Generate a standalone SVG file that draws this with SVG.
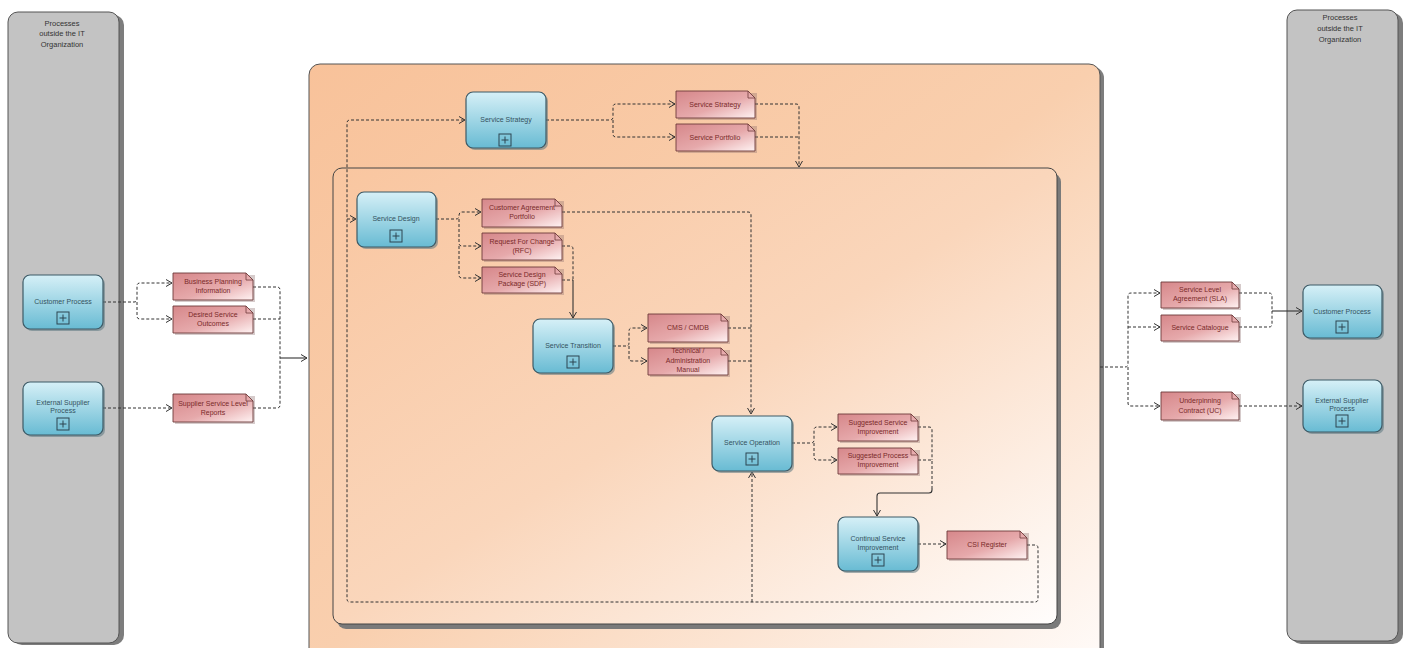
<svg xmlns="http://www.w3.org/2000/svg" width="1407" height="648" viewBox="0 0 1407 648">
<defs>
<linearGradient id="gTask" x1="0" y1="0" x2="0" y2="1"><stop offset="0" stop-color="#d6f0f7"/><stop offset="1" stop-color="#68bbd3"/></linearGradient>
<linearGradient id="gData" x1="0" y1="0" x2="1" y2="1"><stop offset="0" stop-color="#d6878a"/><stop offset="0.55" stop-color="#e6a9ab"/><stop offset="1" stop-color="#fff3f3"/></linearGradient>
<linearGradient id="gLife" x1="0" y1="0" x2="1" y2="1"><stop offset="0" stop-color="#f8c29a"/><stop offset="0.5" stop-color="#f9cfae"/><stop offset="1" stop-color="#fffbf9"/></linearGradient>
<linearGradient id="gInner" x1="0" y1="0" x2="1" y2="1"><stop offset="0" stop-color="#f9c6a0"/><stop offset="0.5" stop-color="#fad6bb"/><stop offset="1" stop-color="#fffdfc"/></linearGradient>
<marker id="ar" markerUnits="userSpaceOnUse" markerWidth="9" markerHeight="9" refX="7" refY="4" orient="auto"><path d="M1,0.5 L7,4 L1,7.5" fill="none" stroke="#333" stroke-width="1"/></marker>
</defs>
<style>
.pool{fill:#c3c3c3;stroke:#555;stroke-width:1}
.psh{fill:#7d7d7d}
.pt{font-family:"Liberation Sans",Arial,sans-serif;font-size:7.5px;fill:#333;text-anchor:middle}
.task{fill:url(#gTask);stroke:#3d5a66;stroke-width:1.2}
.tsh{fill:#5b7680;opacity:0.55}
.tt{font-family:"Liberation Sans",Arial,sans-serif;font-size:7px;fill:#34525e;text-anchor:middle}
.plus{fill:none;stroke:#2d4550;stroke-width:1}
.data{fill:url(#gData);stroke:#6e3a3a;stroke-width:0.9}
.dsh{fill:#8a6a6a;opacity:0.35}
.fold{fill:none;stroke:#6e3a3a;stroke-width:0.8}
.dt{font-family:"Liberation Sans",Arial,sans-serif;font-size:7px;fill:#7a2a2a;text-anchor:middle}
.d{fill:none;stroke:#333;stroke-width:1;stroke-dasharray:3,2}
.s{fill:none;stroke:#333;stroke-width:1.1}
</style>

<!-- pools -->
<g id="pool-left">
<rect class="psh" x="12" y="15" width="112" height="630" rx="10"/>
<rect class="pool" x="8" y="12" width="111" height="631" rx="10"/>
<text class="pt" x="62" y="26">Processes</text>
<text class="pt" x="62" y="36">outside the IT</text>
<text class="pt" x="62" y="47">Organization</text>
</g>
<g id="pool-right">
<rect class="psh" x="1291" y="13" width="112" height="631" rx="10"/>
<rect class="pool" x="1287" y="10" width="111" height="631" rx="10"/>
<text class="pt" x="1340" y="20">Processes</text>
<text class="pt" x="1340" y="31">outside the IT</text>
<text class="pt" x="1340" y="42">Organization</text>
</g>

<!-- lifecycle containers -->
<g id="lifecycle">
<rect x="313" y="67" width="791" height="600" rx="11" fill="#7d7d7d"/>
<rect x="309" y="64" width="791" height="600" rx="11" fill="url(#gLife)" stroke="#555" stroke-width="1"/>
</g>
<g id="lifecycle-inner">
<rect x="337" y="173" width="724" height="456" rx="9" fill="#7a7a7a"/>
<rect x="333" y="168" width="724" height="456" rx="9" fill="url(#gInner)" stroke="#444" stroke-width="1"/>
</g>

<!-- connectors -->
<g id="connectors">
<path class="d" d="M103,302 H134 Q137,302 137,299 V286 Q137,283 140,283 H172" marker-end="url(#ar)"/>
<path class="d" d="M137,302 V316 Q137,319 140,319 H172" marker-end="url(#ar)"/>
<path class="d" d="M103,408 H172" marker-end="url(#ar)"/>
<path class="d" d="M253,287 H277 Q280,287 280,290 V358"/>
<path class="d" d="M253,319 H280"/>
<path class="d" d="M253,408 H277 Q280,408 280,405 V358"/>
<path class="s" d="M280,358 H307" marker-end="url(#ar)"/>

<path class="d" d="M546,120 H610 Q613,120 613,117 V107 Q613,104 616,104 H675" marker-end="url(#ar)"/>
<path class="d" d="M613,120 V134 Q613,137 616,137 H675" marker-end="url(#ar)"/>
<path class="d" d="M755,104 H796 Q799,104 799,107 V167" marker-end="url(#ar)"/>
<path class="d" d="M755,137 H799"/>

<path class="d" d="M1027,545 H1035 Q1038,545 1038,548 V599 Q1038,602 1035,602 H350 Q347,602 347,599 V123 Q347,120 350,120 H465" marker-end="url(#ar)"/>
<path class="d" d="M347,219 H356" marker-end="url(#ar)"/>
<path class="d" d="M752,602 V472" marker-end="url(#ar)"/>

<path class="d" d="M436,219 H456 Q459,219 459,216 Q459,212 462,212 H481" marker-end="url(#ar)"/>
<path class="d" d="M459,219 V243 Q459,246 462,246 H481" marker-end="url(#ar)"/>
<path class="d" d="M459,246 V275 Q459,278 462,278 H481" marker-end="url(#ar)"/>
<path class="d" d="M562,212 H748 Q751,212 751,215 V414" marker-end="url(#ar)"/>
<path class="d" d="M562,246 H570 Q573,246 573,249 V280"/>
<path class="d" d="M562,280 H573"/>
<path class="s" d="M573,280 V318" marker-end="url(#ar)"/>

<path class="d" d="M613,346 H626 Q629,346 629,343 V331 Q629,328 632,328 H647" marker-end="url(#ar)"/>
<path class="d" d="M629,346 V358 Q629,361 632,361 H647" marker-end="url(#ar)"/>
<path class="d" d="M728,328 H751"/>
<path class="d" d="M728,361 H751"/>

<path class="d" d="M792,443 H811 Q814,443 814,440 V430 Q814,427 817,427 H837" marker-end="url(#ar)"/>
<path class="d" d="M814,443 V457 Q814,460 817,460 H837" marker-end="url(#ar)"/>
<path class="d" d="M918,427 H929 Q932,427 932,430 V460"/>
<path class="d" d="M918,460 H932 V488"/>
<path class="s" d="M932,488 V490 Q932,493 929,493 H880 Q877,493 877,496 V516" marker-end="url(#ar)"/>
<path class="d" d="M918,544 H946" marker-end="url(#ar)"/>

<path class="d" d="M1100,367 H1125 Q1128,367 1128,364 V296 Q1128,293 1131,293 H1160" marker-end="url(#ar)"/>
<path class="d" d="M1128,327 H1160" marker-end="url(#ar)"/>
<path class="d" d="M1128,367 V403 Q1128,406 1131,406 H1160" marker-end="url(#ar)"/>
<path class="d" d="M1239,293 H1269 Q1272,293 1272,296 V311"/>
<path class="d" d="M1239,327 H1269 Q1272,327 1272,324 V311"/>
<path class="s" d="M1272,311 H1302" marker-end="url(#ar)"/>
<path class="d" d="M1239,406 H1302" marker-end="url(#ar)"/>
</g>

<!-- task nodes -->
<g id="customer-process-left">
<rect class="tsh" x="25" y="277" width="80" height="54" rx="7"/>
<rect class="task" x="23" y="275" width="80" height="54" rx="7"/>
<text class="tt" x="63" y="304">Customer Process</text>
<rect class="plus" x="57" y="312" width="12" height="12"/><path class="plus" d="M63,314.5 V321.5 M59.5,318 H66.5"/>
</g>
<g id="external-supplier-left">
<rect class="tsh" x="25" y="384" width="80" height="53" rx="7"/>
<rect class="task" x="23" y="382" width="80" height="53" rx="7"/>
<text class="tt" x="63" y="405">External Supplier</text>
<text class="tt" x="63" y="413">Process</text>
<rect class="plus" x="57" y="418" width="12" height="12"/><path class="plus" d="M63,420.5 V427.5 M59.5,424 H66.5"/>
</g>
<g id="service-strategy">
<rect class="tsh" x="468" y="94" width="80" height="56" rx="7"/>
<rect class="task" x="466" y="92" width="80" height="56" rx="7"/>
<text class="tt" x="506" y="122">Service Strategy</text>
<rect class="plus" x="499" y="134" width="12" height="12"/><path class="plus" d="M505,136.5 V143.5 M501.5,140 H508.5"/>
</g>
<g id="service-design">
<rect class="tsh" x="359" y="194" width="79" height="55" rx="7"/>
<rect class="task" x="357" y="192" width="79" height="55" rx="7"/>
<text class="tt" x="396" y="221">Service Design</text>
<rect class="plus" x="390" y="230" width="12" height="12"/><path class="plus" d="M396,232.5 V239.5 M392.5,236 H399.5"/>
</g>
<g id="service-transition">
<rect class="tsh" x="535" y="321" width="80" height="54" rx="7"/>
<rect class="task" x="533" y="319" width="80" height="54" rx="7"/>
<text class="tt" x="573" y="348">Service Transition</text>
<rect class="plus" x="567" y="356" width="12" height="12"/><path class="plus" d="M573,358.5 V365.5 M569.5,362 H576.5"/>
</g>
<g id="service-operation">
<rect class="tsh" x="714" y="418" width="80" height="55" rx="7"/>
<rect class="task" x="712" y="416" width="80" height="55" rx="7"/>
<text class="tt" x="752" y="445">Service Operation</text>
<rect class="plus" x="746" y="453" width="12" height="12"/><path class="plus" d="M752,455.5 V462.5 M748.5,459 H755.5"/>
</g>
<g id="continual-service-improvement">
<rect class="tsh" x="840" y="519" width="80" height="54" rx="7"/>
<rect class="task" x="838" y="517" width="80" height="54" rx="7"/>
<text class="tt" x="878" y="541">Continual Service</text>
<text class="tt" x="878" y="550">Improvement</text>
<rect class="plus" x="872" y="554" width="12" height="12"/><path class="plus" d="M878,556.5 V563.5 M874.5,560 H881.5"/>
</g>
<g id="customer-process-right">
<rect class="tsh" x="1305" y="287" width="79" height="53" rx="7"/>
<rect class="task" x="1303" y="285" width="79" height="53" rx="7"/>
<text class="tt" x="1342" y="314">Customer Process</text>
<rect class="plus" x="1336" y="321" width="12" height="12"/><path class="plus" d="M1342,323.5 V330.5 M1338.5,327 H1345.5"/>
</g>
<g id="external-supplier-right">
<rect class="tsh" x="1305" y="382" width="79" height="52" rx="7"/>
<rect class="task" x="1303" y="380" width="79" height="52" rx="7"/>
<text class="tt" x="1342" y="403">External Supplier</text>
<text class="tt" x="1342" y="411">Process</text>
<rect class="plus" x="1336" y="415" width="12" height="12"/><path class="plus" d="M1342,417.5 V424.5 M1338.5,421 H1345.5"/>
</g>

<!-- data objects -->
<g id="business-planning-information">
<rect class="dsh" x="175" y="275" width="80" height="27"/>
<path class="data" d="M173,273 H246 L253,280 V300 H173 Z"/><path class="fold" d="M246,273 V280 H253"/>
<text class="tt dt" x="213" y="284">Business Planning</text>
<text class="dt" x="213" y="293">Information</text>
</g>
<g id="desired-service-outcomes">
<rect class="dsh" x="175" y="308" width="80" height="27"/>
<path class="data" d="M173,306 H246 L253,313 V333 H173 Z"/><path class="fold" d="M246,306 V313 H253"/>
<text class="dt" x="213" y="317">Desired Service</text>
<text class="dt" x="213" y="326">Outcomes</text>
</g>
<g id="supplier-service-level-reports">
<rect class="dsh" x="175" y="396" width="80" height="28"/>
<path class="data" d="M173,394 H246 L253,401 V422 H173 Z"/><path class="fold" d="M246,394 V401 H253"/>
<text class="dt" x="213" y="406">Supplier Service Level</text>
<text class="dt" x="213" y="415">Reports</text>
</g>
<g id="do-service-strategy">
<rect class="dsh" x="678" y="93" width="79" height="27"/>
<path class="data" d="M676,91 H748 L755,98 V118 H676 Z"/><path class="fold" d="M748,91 V98 H755"/>
<text class="dt" x="715" y="107">Service Strategy</text>
</g>
<g id="service-portfolio">
<rect class="dsh" x="678" y="126" width="79" height="27"/>
<path class="data" d="M676,124 H748 L755,131 V151 H676 Z"/><path class="fold" d="M748,124 V131 H755"/>
<text class="dt" x="715" y="140">Service Portfolio</text>
</g>
<g id="customer-agreement-portfolio">
<rect class="dsh" x="484" y="201" width="80" height="28"/>
<path class="data" d="M482,199 H555 L562,206 V227 H482 Z"/><path class="fold" d="M555,199 V206 H562"/>
<text class="dt" x="522" y="210">Customer Agreement</text>
<text class="dt" x="522" y="219">Portfolio</text>
</g>
<g id="request-for-change">
<rect class="dsh" x="484" y="235" width="80" height="27"/>
<path class="data" d="M482,233 H555 L562,240 V260 H482 Z"/><path class="fold" d="M555,233 V240 H562"/>
<text class="dt" x="522" y="244">Request For Change</text>
<text class="dt" x="522" y="253">(RFC)</text>
</g>
<g id="service-design-package">
<rect class="dsh" x="484" y="269" width="80" height="26"/>
<path class="data" d="M482,267 H555 L562,274 V293 H482 Z"/><path class="fold" d="M555,267 V274 H562"/>
<text class="dt" x="522" y="277">Service Design</text>
<text class="dt" x="522" y="286">Package (SDP)</text>
</g>
<g id="cms-cmdb">
<rect class="dsh" x="650" y="316" width="80" height="28"/>
<path class="data" d="M648,314 H721 L728,321 V342 H648 Z"/><path class="fold" d="M721,314 V321 H728"/>
<text class="dt" x="688" y="330">CMS / CMDB</text>
</g>
<g id="technical-administration-manual">
<rect class="dsh" x="650" y="350" width="80" height="27"/>
<path class="data" d="M648,348 H721 L728,355 V375 H648 Z"/><path class="fold" d="M721,348 V355 H728"/>
<text class="dt" x="688" y="353">Technical /</text>
<text class="dt" x="688" y="363">Administration</text>
<text class="dt" x="688" y="372">Manual</text>
</g>
<g id="suggested-service-improvement">
<rect class="dsh" x="840" y="416" width="80" height="27"/>
<path class="data" d="M838,414 H911 L918,421 V441 H838 Z"/><path class="fold" d="M911,414 V421 H918"/>
<text class="dt" x="878" y="425">Suggested Service</text>
<text class="dt" x="878" y="434">Improvement</text>
</g>
<g id="suggested-process-improvement">
<rect class="dsh" x="840" y="450" width="80" height="26"/>
<path class="data" d="M838,448 H911 L918,455 V474 H838 Z"/><path class="fold" d="M911,448 V455 H918"/>
<text class="dt" x="878" y="458">Suggested Process</text>
<text class="dt" x="878" y="467">Improvement</text>
</g>
<g id="csi-register">
<rect class="dsh" x="949" y="533" width="80" height="28"/>
<path class="data" d="M947,531 H1020 L1027,538 V559 H947 Z"/><path class="fold" d="M1020,531 V538 H1027"/>
<text class="dt" x="987" y="547">CSI Register</text>
</g>
<g id="service-level-agreement">
<rect class="dsh" x="1163" y="284" width="78" height="26"/>
<path class="data" d="M1161,282 H1232 L1239,289 V308 H1161 Z"/><path class="fold" d="M1232,282 V289 H1239"/>
<text class="dt" x="1200" y="292">Service Level</text>
<text class="dt" x="1200" y="301">Agreement (SLA)</text>
</g>
<g id="service-catalogue">
<rect class="dsh" x="1163" y="317" width="78" height="26"/>
<path class="data" d="M1161,315 H1232 L1239,322 V341 H1161 Z"/><path class="fold" d="M1232,315 V322 H1239"/>
<text class="dt" x="1200" y="330">Service Catalogue</text>
</g>
<g id="underpinning-contract">
<rect class="dsh" x="1163" y="394" width="78" height="28"/>
<path class="data" d="M1161,392 H1232 L1239,399 V420 H1161 Z"/><path class="fold" d="M1232,392 V399 H1239"/>
<text class="dt" x="1200" y="403">Underpinning</text>
<text class="dt" x="1200" y="413">Contract (UC)</text>
</g>
</svg>
